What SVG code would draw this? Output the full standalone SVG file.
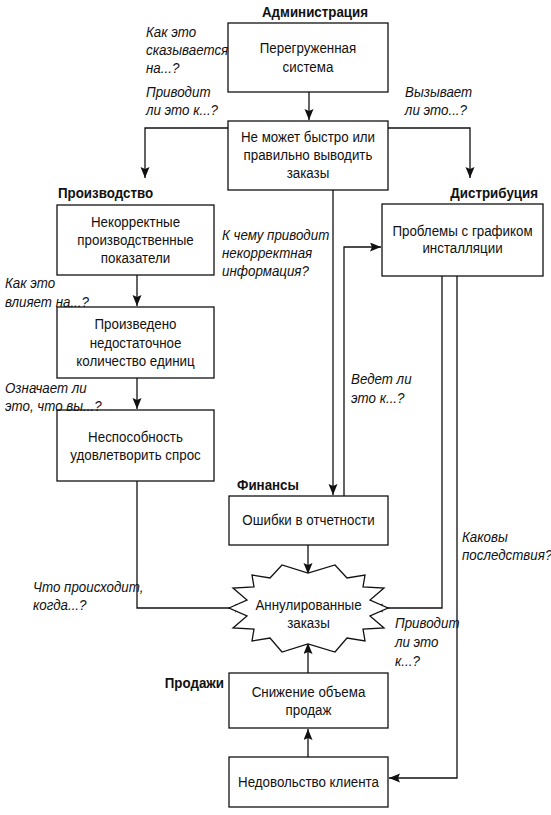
<svg xmlns="http://www.w3.org/2000/svg" width="551" height="815" viewBox="0 0 551 815">
<style>
  .box { fill: #fff; stroke: #111; stroke-width: 1.3; }
  text { font-family: 'Liberation Sans', Arial, sans-serif; font-size: 15px; fill: #111; transform: scaleX(0.89); transform-box: fill-box; }
  .t { text-anchor: middle; transform-origin: center; }
  .h { font-weight: bold; transform-origin: left; }
  .h.m { text-anchor: middle; transform-origin: center; }
  .h.e { text-anchor: end; transform-origin: right; }
  .q { font-style: italic; transform-origin: left; }
  .c { fill: none; stroke: #111; stroke-width: 1.3; marker-end: url(#arr); }
</style>
<defs>
  <marker id="arr" markerUnits="userSpaceOnUse" markerWidth="12" markerHeight="10" refX="11" refY="4.5" orient="auto">
    <path d="M0,0 L11,4.5 L0,9 L2,4.5 z" fill="#111"/>
  </marker>
</defs>
<rect width="551" height="815" fill="#fff"/>

<g id="connectors">
  <path class="c" d="M309,92 V120"/>
  <path class="c" d="M228,128 H145 V178"/>
  <path class="c" d="M388,128 H470 V178"/>
  <path class="c" d="M333,190 V495"/>
  <path class="c" d="M344,496 V247 H381"/>
  <path class="c" d="M137,275 V306"/>
  <path class="c" d="M137,378 V409"/>
  <path class="c" d="M137,481 V608 H246"/>
  <path class="c" d="M308,545 V574"/>
  <path class="c" d="M442,276 V608 H372"/>
  <path class="c" d="M457,276 V778 H389"/>
  <path class="c" d="M308,673 V643"/>
  <path class="c" d="M308,757 V729"/>
</g>

<g id="admin-title"><text class="h m" x="315" y="17">Администрация</text></g>
<g id="prod-title"><text class="h" x="58" y="198">Производство</text></g>
<g id="dist-title"><text class="h e" x="538" y="198">Дистрибуция</text></g>
<g id="fin-title"><text class="h" x="237" y="490">Финансы</text></g>
<g id="sales-title"><text class="h e" x="224" y="688">Продажи</text></g>

<g id="n-overload">
  <rect class="box" x="228" y="23" width="160" height="69"/>
  <text class="t" x="308" y="53">Перегруженная</text>
  <text class="t" x="308" y="72">система</text>
</g>
<g id="n-cannot">
  <rect class="box" x="228" y="121" width="160" height="69"/>
  <text class="t" x="308" y="142">Не может быстро или</text>
  <text class="t" x="308" y="160">правильно выводить</text>
  <text class="t" x="308" y="178">заказы</text>
</g>
<g id="n-incorrect">
  <rect class="box" x="57" y="205" width="157" height="70"/>
  <text class="t" x="135.5" y="227">Некорректные</text>
  <text class="t" x="135.5" y="245">производственные</text>
  <text class="t" x="135.5" y="263">показатели</text>
</g>
<g id="n-insufficient">
  <rect class="box" x="57" y="307" width="157" height="71"/>
  <text class="t" x="135.5" y="329">Произведено</text>
  <text class="t" x="135.5" y="348">недостаточное</text>
  <text class="t" x="135.5" y="366">количество единиц</text>
</g>
<g id="n-demand">
  <rect class="box" x="57" y="410" width="157" height="71"/>
  <text class="t" x="135.5" y="442">Неспособность</text>
  <text class="t" x="135.5" y="460">удовлетворить спрос</text>
</g>
<g id="n-install">
  <rect class="box" x="382" y="204" width="161" height="72"/>
  <text class="t" x="462.5" y="236">Проблемы с графиком</text>
  <text class="t" x="462.5" y="253">инсталляции</text>
</g>
<g id="n-errors">
  <rect class="box" x="229" y="496" width="159" height="49"/>
  <text class="t" x="308.5" y="525">Ошибки в отчетности</text>
</g>
<g id="n-cancelled">
  <polygon class="box" points="229,608 247,600 233,588 254,587 252,575 270,578 282,565 308,573 335,565 347,578 365,575 363,587 384,588 370,600 388,608 370,616 384,628 363,629 365,641 347,638 335,652 308,644 282,652 270,638 252,641 254,629 233,628 247,616"/>
  <text class="t" x="308.5" y="610">Аннулированные</text>
  <text class="t" x="308.5" y="628">заказы</text>
</g>
<g id="n-sales">
  <rect class="box" x="229" y="673" width="159" height="55"/>
  <text class="t" x="308.5" y="697">Снижение объема</text>
  <text class="t" x="308.5" y="715">продаж</text>
</g>
<g id="n-customer">
  <rect class="box" x="229" y="757" width="159" height="50"/>
  <text class="t" x="308.5" y="787">Недовольство клиента</text>
</g>

<g id="questions">
  <text class="q" x="146" y="37">Как это</text>
  <text class="q" x="146" y="55">сказывается</text>
  <text class="q" x="146" y="73">на...?</text>
  <text class="q" x="146" y="97">Приводит</text>
  <text class="q" x="146" y="115">ли это к...?</text>
  <text class="q" x="405" y="97">Вызывает</text>
  <text class="q" x="405" y="115">ли это...?</text>
  <text class="q" x="222" y="240">К чему приводит</text>
  <text class="q" x="222" y="258">некорректная</text>
  <text class="q" x="222" y="276">информация?</text>
  <text class="q" x="5" y="288">Как это</text>
  <text class="q" x="5" y="307">влияет на...?</text>
  <text class="q" x="5" y="393">Означает ли</text>
  <text class="q" x="5" y="411">это, что вы...?</text>
  <text class="q" x="351" y="384">Ведет ли</text>
  <text class="q" x="351" y="403">это к...?</text>
  <text class="q" x="462" y="542">Каковы</text>
  <text class="q" x="462" y="560">последствия?</text>
  <text class="q" x="33" y="592">Что происходит,</text>
  <text class="q" x="33" y="610">когда...?</text>
  <text class="q" x="395" y="628">Приводит</text>
  <text class="q" x="395" y="647">ли это</text>
  <text class="q" x="395" y="666">к...?</text>
</g>
</svg>
